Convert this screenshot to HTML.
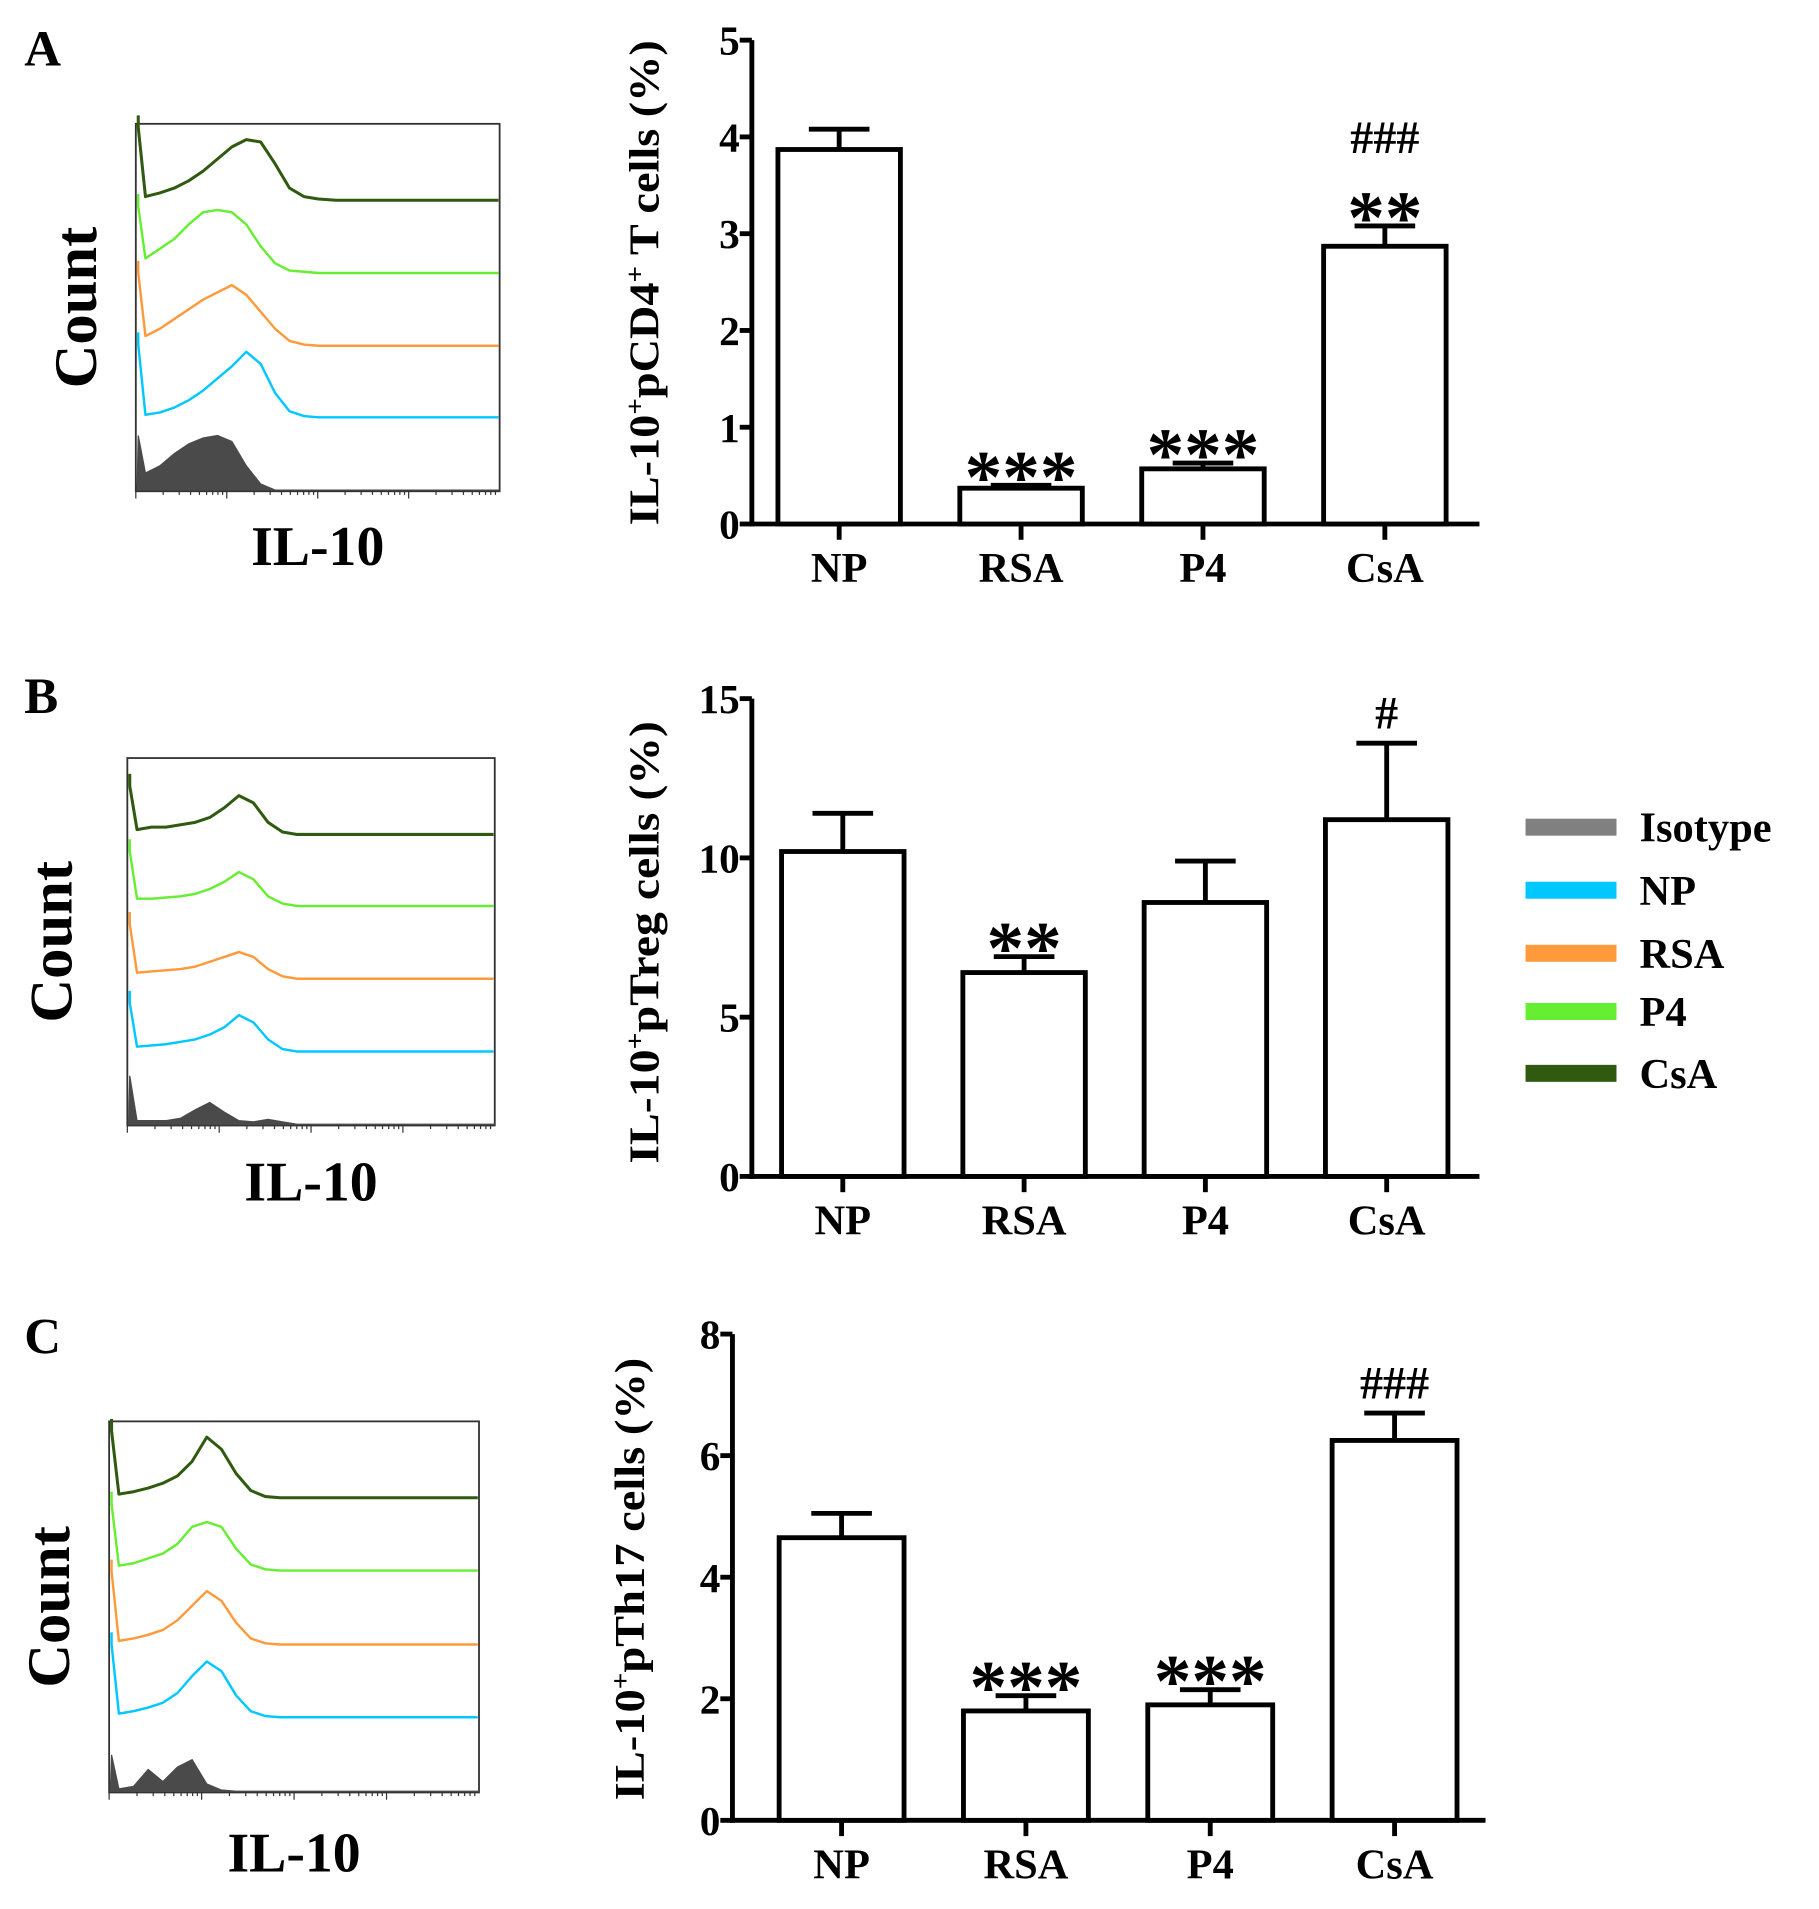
<!DOCTYPE html>
<html><head><meta charset="utf-8"><style>
html,body{margin:0;padding:0;background:#fff}
svg{display:block}
text{font-family:"Liberation Serif",serif;font-weight:bold;fill:#000}
</style></head><body>
<svg id="fig" width="1819" height="1909" viewBox="0 0 1500 1574" xmlns="http://www.w3.org/2000/svg">
<text x="20" y="54" font-size="42">A</text>
<text x="20" y="588" font-size="42">B</text>
<text x="20" y="1116" font-size="42">C</text>
</svg>
<script>
// ---- Bar chart data ----
const categories = ["NP","RSA","P4","CsA"];
const valuesA = [3.87,0.37,0.57,2.87];
const errorsA = [0.21,0.03,0.06,0.21];
const ticksA = [0,1,2,3,4,5];
const signifA = ["","***","***","**"];
const hashA = ["","","","###"];
const valuesB = [10.2,6.4,8.6,11.2];
const errorsB = [1.2,0.5,1.3,2.4];
const ticksB = [0,5,10,15];
const signifB = ["","**","",""];
const hashB = ["","","","#"];
const valuesC = [4.65,1.8,1.9,6.25];
const errorsC = [0.4,0.25,0.25,0.45];
const ticksC = [0,2,4,6,8];
const signifC = ["","***","***",""];
const hashC = ["","","","###"];
// ---- Histogram data (x fractions & heights in px) ----
const histX = [0,0.02,0.06,0.1,0.14,0.18,0.22,0.26,0.3,0.34,0.38,0.42,0.46,0.5,0.55,0.6,1];
const histA_csa = [60,3,6,10,16,24,34,44,50,48,30,10,3,1,0,0,0];
const histA_p4  = [55,12,20,28,40,50,52,50,40,22,8,2,1,0,0,0,0];
const histA_rsa = [60,8,14,22,30,38,44,50,42,28,14,4,1,0,0,0,0];
const histA_np  = [60,2,4,8,14,22,32,42,54,44,20,5,1,0,0,0,0];
const histA_iso = [45,14,20,30,38,43,45,40,20,5,0,0,0,0,0,0,0];
const histB_csa = [40,4,6,6,8,10,14,22,32,26,10,2,0,0,0,0,0];
const histB_p4  = [45,6,6,7,8,10,14,20,28,22,8,2,0,0,0,0,0];
const histB_rsa = [45,5,6,7,8,10,14,18,22,18,8,2,0,0,0,0,0];
const histB_np  = [40,4,5,6,8,10,14,20,30,24,10,2,0,0,0,0,0];
const histB_iso = [40,3,3,3,5,12,18,10,3,2,4,2,0,0,0,0,0];
const histC_csa = [55,3,5,8,12,18,30,50,40,20,6,1,0,0,0,0,0];
const histC_p4  = [55,4,6,10,14,22,36,40,36,18,5,1,0,0,0,0,0];
const histC_rsa = [60,3,5,8,12,20,32,44,36,18,5,1,0,0,0,0,0];
const histC_np  = [60,3,5,8,12,20,34,46,38,18,5,1,0,0,0,0,0];
const histC_iso = [30,2,4,18,8,20,26,6,1,0,0,0,0,0,0,0,0];

const NS="http://www.w3.org/2000/svg";
const svg=document.getElementById('fig');
function mk(tag,attrs,parent){const e=document.createElementNS(NS,tag);for(const k in attrs)e.setAttribute(k,attrs[k]);(parent||svg).appendChild(e);return e;}

function barChart(cfg,vals,errs,ticks,sig,hsh){
  const g=mk('g',{});
  
  
  const ymax=ticks[ticks.length-1];
  const y=v=>cfg.y0-(v/ymax)*(cfg.y0-cfg.ytop);
  const x=i=>cfg.x0+cfg.first+i*cfg.step;
  const ya=mk('line',{x1:cfg.ax,y1:cfg.ytop,x2:cfg.ax,y2:cfg.y0+2,stroke:'#000','stroke-width':4},g);
  
  
  const xa=mk('line',{x1:cfg.ax-2,y1:cfg.y0,x2:cfg.xend,y2:cfg.y0,stroke:'#000','stroke-width':4},g);
  
  
  ticks.forEach(t=>{
    mk('line',{x1:cfg.ax-10,y1:y(t),x2:cfg.ax,y2:y(t),stroke:'#000','stroke-width':4},g);
    const tl=mk('text',{x:cfg.ax-10,y:y(t)+12,'font-size':34,'text-anchor':'end'},g);
    tl.textContent=t;
    
    
  });
  const bw=cfg.bw;
  categories.forEach((c,i)=>{
    const cx=x(i);
    const b=mk('rect',{x:cx-bw/2,y:y(vals[i]),width:bw,height:cfg.y0-y(vals[i]),fill:'#fff',stroke:'#000','stroke-width':4},g);
    
    
    const et=y(vals[i]+errs[i]);
    const e1=mk('line',{x1:cx,y1:y(vals[i]),x2:cx,y2:et,stroke:'#000','stroke-width':4},g);
    
    
    mk('line',{x1:cx-25,y1:et,x2:cx+25,y2:et,stroke:'#000','stroke-width':4},g);
    mk('line',{x1:cx,y1:cfg.y0,x2:cx,y2:cfg.y0+13,stroke:'#000','stroke-width':4},g);
    const lab=mk('text',{x:cx,y:cfg.y0+48,'font-size':35,'text-anchor':'middle'},g);
    lab.textContent=c;
    
    
    if(sig[i]){
      const s=mk('text',{x:cx,y:et+14,'font-size':62,'text-anchor':'middle'},g);
      s.textContent=sig[i];
      
      
    }
    if(hsh[i]){
      const off=sig[i]?48:0;
      const h=mk('text',{x:cx,y:et-12-off,'font-size':38,'text-anchor':'middle'},g);
      h.textContent=hsh[i];
      
      
    }
  });
  const tt=mk('text',{x:0,y:0,'font-size':35,'text-anchor':'middle',textLength:cfg.tl,lengthAdjust:'spacingAndGlyphs',transform:`translate(${cfg.tx},${cfg.ty}) rotate(-90)`},g);
  tt.innerHTML=cfg.title;
  
  
}

barChart({name:'chart-a',ax:620,x0:620,first:72,step:150,bw:101,ytop:33,y0:432,xend:1220,tx:543,ty:233,tl:400,
  title:'IL-10<tspan baseline-shift="super" font-size="22">+</tspan>pCD4<tspan baseline-shift="super" font-size="22">+</tspan> T cells (%)'},valuesA,errorsA,ticksA,signifA,hashA);
barChart({name:'chart-b',ax:620,x0:620,first:75,step:149.5,bw:101,ytop:576,y0:970,xend:1220,tx:543,ty:777,tl:365,
  title:'IL-10<tspan baseline-shift="super" font-size="22">+</tspan>pTreg cells (%)'},valuesB,errorsB,ticksB,signifB,hashB);
barChart({name:'chart-c',ax:604,x0:604,first:90,step:152,bw:103,ytop:1100,y0:1501,xend:1225,tx:531,ty:1302,tl:365,
  title:'IL-10<tspan baseline-shift="super" font-size="22">+</tspan>pTh17 cells (%)'},valuesC,errorsC,ticksC,signifC,hashC);

function histPanel(name,bx,by,bw,bh,bases,traces,cntX,ilY){
  const g=mk('g',{});
  
  
  const box=mk('rect',{x:bx,y:by,width:bw,height:bh,fill:'none',stroke:'#333','stroke-width':1.5},g);
  
  
  const cols=['#2f5a10','#66ee33','#ff9a3c','#00c8ff'];
  const tn=['csa','p4','rsa','np'];
  traces.forEach((h,k)=>{
    const base=k<4?bases[k]:by+bh-1;
    const pts=histX.map((f,j)=>[bx+2+f*(bw-3),base-h[j]]);
    if(k<4){
      const p=mk('polyline',{points:[[bx+2,base-h[0]-10]].concat(pts).map(p=>p.join(',')).join(' '),fill:'none',stroke:cols[k],'stroke-width':k==0?2.5:2,'stroke-linejoin':'round'},g);
      
      
    } else {
      const p=mk('polygon',{points:[[bx+1,base]].concat(pts).concat([[bx+bw,base]]).map(p=>p.join(',')).join(' '),fill:'#4a4a4a',stroke:'#4a4a4a','stroke-width':1},g);
      
      
    }
  });
  for(let d=0;d<4;d++){for(let m=1;m<10;m++){const tx=bx+(d+Math.log10(m))/4*bw;mk('line',{x1:tx,y1:by+bh,x2:tx,y2:by+bh+(m==1?6:3),stroke:'#333','stroke-width':1},g);}}
  const c=mk('text',{x:0,y:0,'font-size':50,'text-anchor':'middle',transform:`translate(${cntX},${by+bh/2}) rotate(-90)`},g);
  c.textContent='Count';
  
  
  const il=mk('text',{x:bx+bw/2,y:ilY,'font-size':46,'text-anchor':'middle'},g);
  il.textContent='IL-10';
  
  
}
histPanel('histogram-a',112,102,300,303,[165,225,285,344],[histA_csa,histA_p4,histA_rsa,histA_np,histA_iso],79,466);
histPanel('histogram-b',105,625,303,303,[688,747,807,867],[histB_csa,histB_p4,histB_rsa,histB_np,histB_iso],59,990);
histPanel('histogram-c',90,1172,305,306,[1235,1295,1356,1416],[histC_csa,histC_p4,histC_rsa,histC_np,histC_iso],57,1543);

const legNames=['Isotype','NP','RSA','P4','CsA'];
const legCols=['#808080','#00c8ff','#ff9a3c','#66ee33','#2f5a10'];
const legY=[682,734,786,834,885];
legNames.forEach((n,i)=>{
  const g=mk('g',{});
  
  
  mk('rect',{x:1258,y:legY[i]-7,width:75,height:14,fill:legCols[i]},g);
  const t=mk('text',{x:1352,y:legY[i]+12,'font-size':35},g);
  t.textContent=n;
});
</script>
</body></html>
